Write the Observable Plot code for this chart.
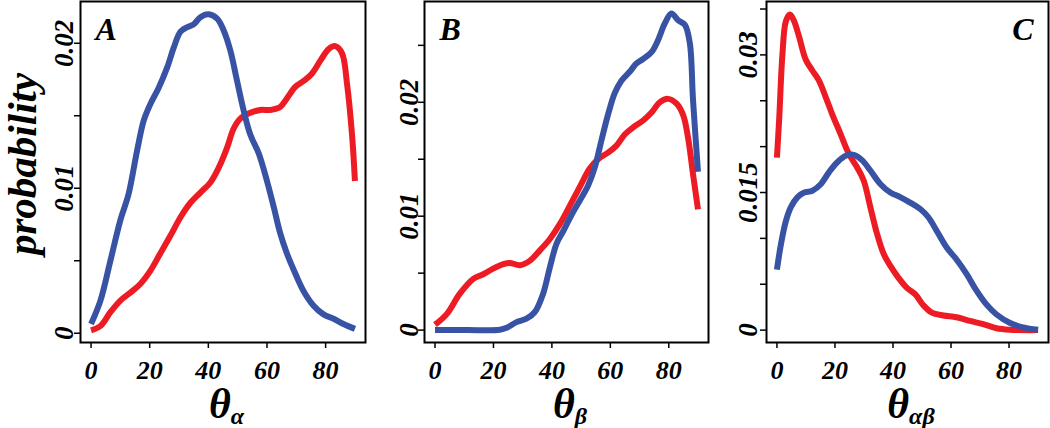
<!DOCTYPE html>
<html><head><meta charset="utf-8">
<script src="https://cdn.jsdelivr.net/npm/d3@7"></script>
<script src="https://cdn.jsdelivr.net/npm/@observablehq/plot@0.6"></script>
<style>
body{margin:0;background:#fff;}
#chart{position:relative;width:1050px;height:428px;overflow:hidden;}
#chart svg{position:absolute;top:0;background:transparent;}
#chart text{font-family:"Liberation Serif","Times New Roman",serif;font-weight:bold;font-style:italic;fill:#000;}
</style></head><body><div id="chart"></div>
<script>
const xTicks = [0, 20, 40, 60, 80];

// Panel A (theta alpha)
const aBlueX = [0,3.2,6.6,10,12.8,15.7,18,20.2,23,25.9,28.2,30.5,32.7,35,37.3,40.1,43,45.2,47.5,49.8,52,54.3,57.2,60,62.3,64.5,66.8,69.7,72.5,75.9,79.3,82.7,86.1,90];
const aBlueY = [0.00064,0.00225,0.005,0.0078,0.0096,0.0126,0.0147,0.0158,0.0169,0.0183,0.0197,0.0208,0.0211,0.0213,0.0218,0.0220,0.0217,0.0209,0.0195,0.0174,0.0154,0.0137,0.0124,0.0105,0.0087,0.0069,0.0055,0.0041,0.0029,0.0019,0.0013,0.0010,0.00064,0.0003];
const aRedX = [0,3.2,6.6,10,13.4,16.8,20.2,23.6,27,30.5,33.9,37.3,40.7,43.5,46.4,48.6,50.9,54.3,57.7,61.1,64.5,66.8,69.7,72.5,75.3,78.2,81,83.3,85.6,87.3,89,90];
const aRedY = [0.0002,0.0005,0.00145,0.00225,0.0028,0.0034,0.0043,0.0055,0.0067,0.0080,0.0090,0.0097,0.0104,0.0114,0.0128,0.0141,0.0148,0.0152,0.0154,0.0154,0.0156,0.0162,0.0170,0.0174,0.0179,0.0188,0.0196,0.0198,0.0193,0.0172,0.0137,0.0105];

// Panel B (theta beta)
const bBlueX = [0,10.8,22.2,24.5,27.9,31.3,34.2,37,39.3,41.6,43.9,46.7,49.6,52.4,54.7,57,59.3,61.5,63.8,66.7,68.9,71.2,74.1,76.4,78.6,80.9,83.2,85.5,87.2,88.3,90];
const bBlueY = [0,0,0.00003,0.0002,0.0007,0.0010,0.0016,0.0032,0.0055,0.0076,0.0087,0.0101,0.0114,0.0127,0.0143,0.0167,0.0190,0.0208,0.0219,0.0227,0.0234,0.0238,0.0244,0.0255,0.0269,0.0278,0.0272,0.0268,0.0252,0.0202,0.0139];
const bRedX = [0,4,8.5,13.1,16.5,19.9,23.4,25.6,29.1,32.5,35.9,39.3,42.7,46.1,49.6,53,55.8,59.3,62.1,65,67.8,71.2,74.1,76.9,79.8,82.6,84.9,86.6,88.3,90];
const bRedY = [0.00047,0.0014,0.0032,0.0045,0.0049,0.0054,0.0058,0.0059,0.0057,0.0061,0.0070,0.0080,0.0093,0.0109,0.0126,0.0142,0.0150,0.0156,0.0162,0.0172,0.0178,0.0184,0.0191,0.0200,0.0203,0.0199,0.0189,0.0169,0.0137,0.0106];

// Panel C (theta alpha-beta)
const cRedX = [0,0.8,1.9,3.1,4.5,5.9,7.7,9.9,12.2,14.5,16.8,19.1,21.9,24.8,27.7,29.9,32.2,34.5,36.8,39.1,41.9,44.8,47.7,50.5,53.4,57.4,61.9,66.5,71.1,75.7,80.2,90];
const cRedY = [0.0188,0.0232,0.0301,0.0337,0.0344,0.0337,0.0319,0.0295,0.0283,0.0272,0.0254,0.0235,0.0214,0.0192,0.0177,0.0163,0.0134,0.0105,0.0083,0.0070,0.0057,0.0046,0.0039,0.0027,0.0019,0.0016,0.0014,0.0010,0.00065,0.0002,0.00004,0];
const cBlueX = [0,1.4,3.1,4.8,7.1,9.4,12.2,15.1,17.9,20.8,23.7,26.5,29.4,32.2,35.7,39.1,42.5,45.9,49.4,52.2,55.1,58.5,61.9,65.4,68.8,72.2,75.7,80.2,84.8,90];
const cBlueY = [0.0066,0.0094,0.0119,0.0134,0.0145,0.0150,0.0152,0.0159,0.0172,0.0183,0.0190,0.0191,0.0185,0.0174,0.0159,0.0150,0.0145,0.0139,0.0132,0.0123,0.0108,0.0090,0.0077,0.0061,0.0043,0.0028,0.0017,0.0008,0.0003,0.00004];

// axis ticks and labels
const aYTicks = [0,0.005,0.01,0.015,0.02];
const aYLabelVals = [0,0.01,0.02];
const aYLabels = ["0","0.01","0.02"];
const bYTicks = [0,0.005,0.01,0.015,0.02,0.025];
const bYLabelVals = [0,0.01,0.02];
const bYLabels = ["0","0.01","0.02"];
const cYTicks = [0,0.005,0.01,0.015,0.02,0.025,0.03,0.035];
const cYLabelVals = [0,0.015,0.03];
const cYLabels = ["0","0.015","0.03"];

const seriesNames = ["series 1", "series 2"];
const seriesColors = ["#ED1C24", "#3953A4"];

function panel(o) {
  const data = [];
  o.series.forEach(s => s.x.forEach((x, i) => data.push({x, y: s.y[i], s: s.name})));
  const labels = o.yLabelVals.map((v, i) => ({v, t: o.yLabels[i]}));
  const svg = Plot.plot({
    width: o.width, height: 428,
    marginLeft: o.mL, marginRight: o.mR, marginTop: 1, marginBottom: 86,
    x: {domain: [-3.6, 93.6]},
    y: {domain: o.yDomain},
    color: {type: "ordinal", domain: seriesNames, range: seriesColors},
    marks: [
      Plot.axisX({ticks: xTicks, tickSize: 6, tickPadding: 12, fontSize: 26, label: null, strokeWidth: 1.5}),
      Plot.axisY({ticks: o.yTicks, tickSize: 6, tickFormat: () => "", label: null, strokeWidth: 1.5}),
      Plot.text(labels, {y: "v", text: "t", frameAnchor: "left", dx: -o.gap, rotate: -90, lineAnchor: "bottom", textAnchor: "middle", fontSize: 27}),
      Plot.line(data, {x: "x", y: "y", z: "s", stroke: "s", strokeWidth: 6, curve: "catmull-rom", strokeLinecap: "butt"}),
      Plot.frame({stroke: "black", strokeWidth: 2}),
      Plot.text([o.letter], {frameAnchor: o.letterSide, dx: o.letterSide === "top-left" ? 15 : -15, dy: 16, lineAnchor: "top", textAnchor: o.letterSide === "top-left" ? "start" : "end", fontSize: 32})
    ]
  });
  svg.style.left = o.left + "px";
  const cx = o.mL + (o.width - o.mL - o.mR) / 2 + 4;
  const t = d3.select(svg).append("text").attr("x", cx).attr("y", 418).attr("text-anchor", "middle").attr("font-size", 42);
  t.append("tspan").text("θ");
  t.append("tspan").attr("font-size", 24).attr("dy", 6).text(o.sub);
  if (o.ylab) {
    d3.select(svg).append("text").attr("transform", "translate(36,164) rotate(-90)")
      .attr("text-anchor", "middle").attr("font-size", 41).text("probability");
  }
  document.getElementById("chart").appendChild(svg);
}

panel({left: 0, width: 380, mL: 80, mR: 15, yDomain: [-0.00064, 0.02288], yTicks: aYTicks, yLabelVals: aYLabelVals, yLabels: aYLabels, gap: 8,
  series: [{name: seriesNames[0], x: aRedX, y: aRedY}, {name: seriesNames[1], x: aBlueX, y: aBlueY}], letter: "A", letterSide: "top-left", sub: "α", ylab: true});
panel({left: 380, width: 340, mL: 44, mR: 12, yDomain: [-0.00109, 0.02885], yTicks: bYTicks, yLabelVals: bYLabelVals, yLabels: bYLabels, gap: 7,
  series: [{name: seriesNames[0], x: bRedX, y: bRedY}, {name: seriesNames[1], x: bBlueX, y: bBlueY}], letter: "B", letterSide: "top-left", sub: "β"});
panel({left: 720, width: 330, mL: 46, mR: 2, yDomain: [-0.00135, 0.03582], yTicks: cYTicks, yLabelVals: cYLabelVals, yLabels: cYLabels, gap: 10,
  series: [{name: seriesNames[0], x: cRedX, y: cRedY}, {name: seriesNames[1], x: cBlueX, y: cBlueY}], letter: "C", letterSide: "top-right", sub: "αβ"});
</script></body></html>
